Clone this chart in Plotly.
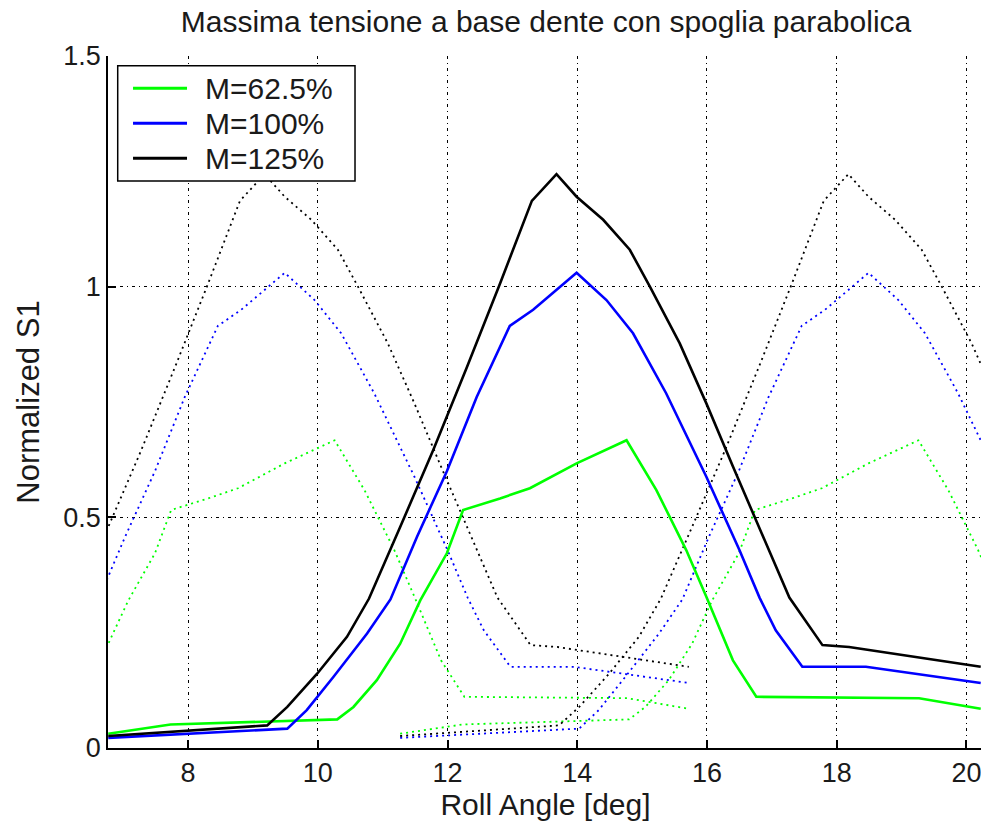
import plotly.graph_objects as go

# Roll angle [deg] and normalized S1 for each load level (solid = current tooth)
green_x = [6.77, 7.73, 10.30, 10.55, 10.91, 11.27, 11.58, 11.99, 12.24, 12.81, 13.27, 13.78, 13.99, 14.76,
           15.22, 15.68, 15.99, 16.40, 16.76, 19.27, 20.22]
green_y = [0.031, 0.051, 0.062, 0.089, 0.147, 0.226, 0.320, 0.422, 0.516, 0.541, 0.563, 0.602, 0.617, 0.667,
           0.559, 0.429, 0.328, 0.190, 0.111, 0.108, 0.085]

blue_x = [6.77, 9.53, 9.83, 10.24, 10.76, 11.12, 11.53, 11.99, 12.45, 12.96, 13.32, 13.99,
          14.45, 14.86, 15.37, 15.99, 16.50, 16.81, 17.06, 17.47, 18.45, 20.22]
blue_y = [0.022, 0.042, 0.082, 0.154, 0.248, 0.322, 0.458, 0.600, 0.761, 0.915, 0.950, 1.030,
          0.971, 0.899, 0.769, 0.588, 0.429, 0.326, 0.255, 0.176, 0.176, 0.141]

black_x = [6.77, 9.22, 9.53, 9.99, 10.45, 10.79, 11.27, 11.78, 12.30, 12.81, 13.30, 13.68,
           13.99, 14.40, 14.81, 15.12, 15.58, 15.99, 16.40, 16.76, 17.27, 17.78, 18.19, 20.22]
black_y = [0.026, 0.049, 0.089, 0.161, 0.241, 0.324, 0.479, 0.646, 0.826, 1.007, 1.186, 1.244,
           1.195, 1.145, 1.080, 1.000, 0.877, 0.747, 0.610, 0.494, 0.326, 0.223, 0.219, 0.176]

labels = ["M=62.5%", "M=100%", "M=125%"]
colors = ["#00ff00", "#0000ff", "#000000"]
PITCH = 4.5  # angular pitch: dotted curves are the previous / next tooth

x_ticks = [8, 10, 12, 14, 16, 18, 20]
y_ticks = [0, 0.5, 1, 1.5]
y_ticklabels = ["0", "0.5", "1", "1.5"]

series = [(green_x, green_y), (blue_x, blue_y), (black_x, black_y)]

fig = go.Figure()
for (xs, ys), col in zip(series, colors):
    for sh in (-PITCH, PITCH):
        fig.add_trace(go.Scatter(x=[v + sh for v in xs], y=ys, mode="lines",
                                 line=dict(color=col, width=1.8, dash="2px,4px"),
                                 showlegend=False, hoverinfo="skip"))
for (xs, ys), col, lab in zip(series, colors, labels):
    fig.add_trace(go.Scatter(x=xs, y=ys, mode="lines", name=lab, showlegend=False,
                             line=dict(color=col, width=2.6)))

FONT = "Liberation Sans, Arial, sans-serif"
TXT = "#1a1a1a"

# legend box (paper coordinates of the plot area)
LEG_X0, LEG_X1, LEG_Y0, LEG_Y1 = 0.0111, 0.2823, 0.8194, 0.9860
LEG_LINE_X0, LEG_LINE_X1, LEG_TEXT_X = 0.0286, 0.0903, 0.1086
LEG_ROWS = [0.9534, 0.9029, 0.8522]

shapes = [dict(type="rect", xref="paper", yref="paper", x0=LEG_X0, x1=LEG_X1, y0=LEG_Y0, y1=LEG_Y1,
               line=dict(color="black", width=1.5), fillcolor="white", layer="above")]
annotations = []
for col, lab, ry in zip(colors, labels, LEG_ROWS):
    shapes.append(dict(type="line", xref="paper", yref="paper", x0=LEG_LINE_X0, x1=LEG_LINE_X1,
                       y0=ry, y1=ry, line=dict(color=col, width=3), layer="above"))
    annotations.append(dict(text=lab, xref="paper", yref="paper", x=LEG_TEXT_X, y=ry,
                            xanchor="left", yanchor="middle", showarrow=False,
                            font=dict(size=30, color=TXT, family=FONT)))

fig.update_layout(
    width=989, height=824,
    margin=dict(l=100, r=14, t=48, b=84),
    paper_bgcolor="white", plot_bgcolor="white",
    font=dict(family=FONT, size=27, color=TXT),
    title=dict(text="Massima tensione a base dente con spoglia parabolica",
               x=0.544, xanchor="center", y=1.0, yanchor="top", yref="container",
               pad=dict(t=3, b=0), font=dict(size=30, color=TXT)),
    showlegend=False,
    shapes=shapes, annotations=annotations,
)
fig.update_xaxes(range=[6.766, 20.255], tickvals=x_ticks, ticks="inside", ticklen=8, tickwidth=1.5,
                 tickcolor="black", showline=True, linecolor="black", linewidth=1.5,
                 showgrid=True, gridcolor="black", gridwidth=1.4, griddash="3px,4px,1px,4px",
                 zeroline=False, title=dict(text="Roll Angle [deg]", font=dict(size=30), standoff=4))
fig.update_yaxes(range=[0, 1.5], tickvals=y_ticks, ticktext=y_ticklabels, ticks="inside", ticklen=8,
                 tickwidth=1.5, tickcolor="black", showline=True, linecolor="black", linewidth=1.5,
                 showgrid=True, gridcolor="black", gridwidth=1.4, griddash="3px,4px,1px,4px",
                 zeroline=False, title=dict(text="Normalized S1", font=dict(size=31), standoff=14))

fig.write_html("out.html")
